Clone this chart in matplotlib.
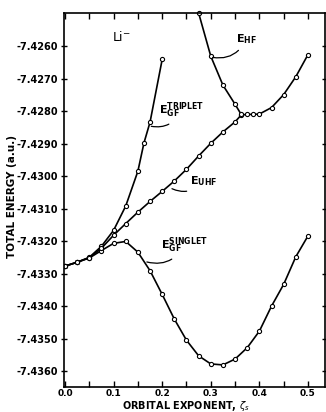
import matplotlib.pyplot as plt
from matplotlib.ticker import MultipleLocator, FormatStrFormatter

# orbital exponent values and total energies
zeta_singlet = [0.0, 0.025, 0.05, 0.075, 0.1, 0.125, 0.15, 0.175, 0.2, 0.225, 0.25,
                0.275, 0.3, 0.325, 0.35, 0.375, 0.4, 0.425, 0.45, 0.475, 0.5]
e_singlet = [-7.43277, -7.43265, -7.43252, -7.43229, -7.43207, -7.43201, -7.43234,
             -7.43291, -7.43364, -7.43440, -7.43505, -7.43553, -7.43578, -7.43581,
             -7.43563, -7.43528, -7.43477, -7.43400, -7.43333, -7.43248, -7.43184]

zeta_triplet = [0.0, 0.025, 0.05, 0.075, 0.1, 0.125, 0.15, 0.1625, 0.175, 0.2]
e_triplet = [-7.43277, -7.43265, -7.43250, -7.43216, -7.43167, -7.43092, -7.42985,
             -7.42898, -7.42834, -7.42641]

zeta_uhf = [0.0, 0.025, 0.05, 0.075, 0.1, 0.125, 0.15, 0.175, 0.2, 0.225, 0.25, 0.275,
            0.3, 0.325, 0.35, 0.3625, 0.375, 0.3875, 0.4, 0.425, 0.45, 0.475, 0.5]
e_uhf = [-7.43277, -7.43265, -7.43251, -7.43222, -7.43182, -7.43146, -7.43111, -7.43078,
         -7.43047, -7.43015, -7.42979, -7.42938, -7.42899, -7.42864, -7.42833, -7.42812,
         -7.42810, -7.42810, -7.42809, -7.42789, -7.42749, -7.42694, -7.42626]

zeta_hf = [0.275, 0.3, 0.325, 0.35, 0.3625]
e_hf = [-7.42498, -7.42631, -7.42720, -7.42779, -7.42810]

fig = plt.figure(figsize=(3.26, 4.12), dpi=100)
ax = fig.add_axes([64/326, 1-387/412, 261/326, 374/412])

sty = dict(color='black', lw=1.2, marker='o', ms=3, mfc='white', mec='black', mew=0.8)
ax.plot(zeta_singlet, e_singlet, **sty)
ax.plot(zeta_triplet, e_triplet, **sty)
ax.plot(zeta_uhf, e_uhf, **sty)
ax.plot(zeta_hf, e_hf, clip_on=False, **sty)

ax.set_xlim(-0.002, 0.535)
ax.set_ylim(-7.43649, -7.42498)

ax.xaxis.set_major_locator(MultipleLocator(0.1))
ax.xaxis.set_minor_locator(MultipleLocator(0.05))
ax.xaxis.set_major_formatter(FormatStrFormatter('%.1f'))
ax.set_yticks([-7.4260 - 0.001*i for i in range(11)])
ax.yaxis.set_major_formatter(FormatStrFormatter('%.4f'))
ax.tick_params(axis='x', which='both', direction='in', length=4, top=True, width=1,
               labelsize=6.5, pad=1.5)
ax.tick_params(axis='y', which='both', direction='inout', length=5, right=True, width=1,
               labelsize=7, pad=2)
for lab in ax.get_xticklabels() + ax.get_yticklabels():
    lab.set_fontweight('bold')
for sp in ax.spines.values():
    sp.set_linewidth(1.2)

# curve labels with the little squiggle leaders
lead = dict(arrowstyle='-', lw=0.9, color='black', connectionstyle='arc3,rad=-0.4')
ax.text(0.096, -7.42572, 'Li$^{-}$', fontsize=9, ha='left', va='center')
ax.annotate('E$_{\\mathbf{HF}}$', xy=(0.298, -7.42633), xytext=(0.352, -7.42577),
            fontsize=8, fontweight='bold', va='center', arrowprops=lead)
ax.annotate('E$_{\\mathbf{GF}}^{\\mathbf{TRIPLET}}$', xy=(0.172, -7.42845), xytext=(0.193, -7.42797),
            fontsize=8, fontweight='bold', va='center', arrowprops=lead)
ax.annotate('E$_{\\mathbf{UHF}}$', xy=(0.215, -7.43035), xytext=(0.257, -7.43015),
            fontsize=8, fontweight='bold', va='center', arrowprops=lead)
ax.annotate('E$_{\\mathbf{GF}}^{\\mathbf{SINGLET}}$', xy=(0.163, -7.43262), xytext=(0.198, -7.43212),
            fontsize=8, fontweight='bold', va='center', arrowprops=lead)

fig.text(12/326, 1-197/412, 'TOTAL ENERGY (a.u.)', rotation=90, ha='center', va='center',
         fontsize=7.5, fontweight='bold')
fig.text(186/326, 1-406/412, 'ORBITAL EXPONENT, $\\zeta_s$', ha='center', va='center',
         fontsize=7, fontweight='bold')

fig.savefig('out.png', dpi=100)
